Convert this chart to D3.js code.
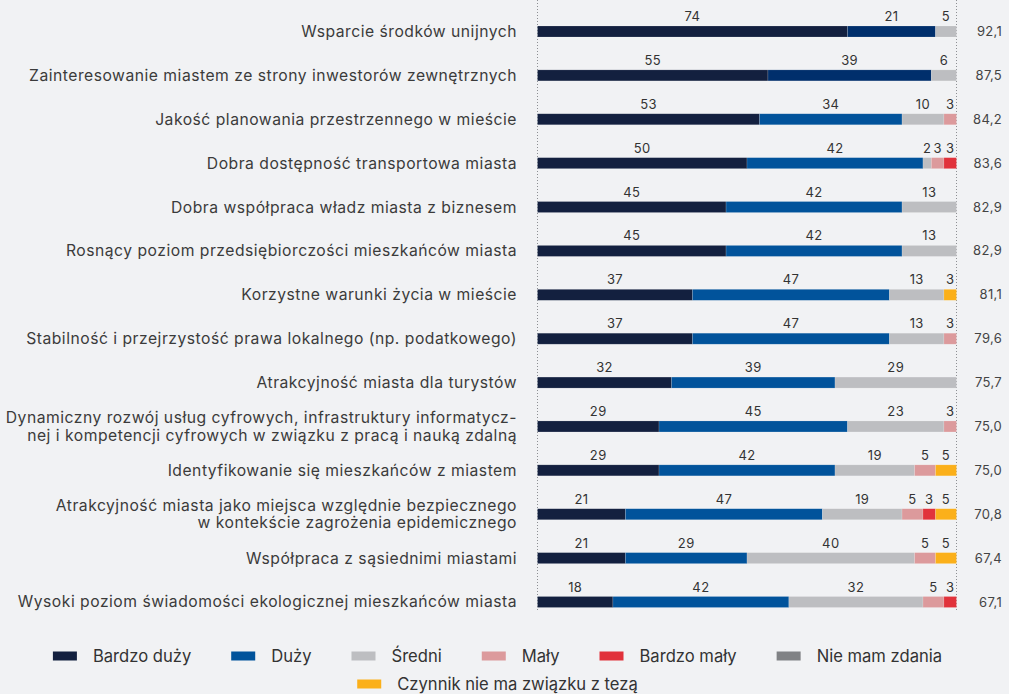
<!DOCTYPE html>
<html lang="pl">
<head>
<meta charset="utf-8">
<script src="https://cdn.jsdelivr.net/npm/d3@7"></script>
<style>
  html, body { margin: 0; padding: 0; background: #f1f2f4; }
  svg { display: block; }
  text { font-family: Inter, "Noto Sans", sans-serif; }
</style>
</head>
<body>
<svg id="chart" width="1009" height="694"></svg>
<script>
// Ocena czynników rozwoju miasta (% odpowiedzi) oraz wskaźnik zbiorczy
const categories = [
  "Wsparcie środków unijnych",
  "Zainteresowanie miastem ze strony inwestorów zewnętrznych",
  "Jakość planowania przestrzennego w mieście",
  "Dobra dostępność transportowa miasta",
  "Dobra współpraca władz miasta z biznesem",
  "Rosnący poziom przedsiębiorczości mieszkańców miasta",
  "Korzystne warunki życia w mieście",
  "Stabilność i przejrzystość prawa lokalnego (np. podatkowego)",
  "Atrakcyjność miasta dla turystów",
  "Dynamiczny rozwój usług cyfrowych, infrastruktury informatycz-\nnej i kompetencji cyfrowych w związku z pracą i nauką zdalną",
  "Identyfikowanie się mieszkańców z miastem",
  "Atrakcyjność miasta jako miejsca względnie bezpiecznego\nw kontekście zagrożenia epidemicznego",
  "Współpraca z sąsiednimi miastami",
  "Wysoki poziom świadomości ekologicznej mieszkańców miasta"
];

const seriesNames = ["Bardzo duży", "Duży", "Średni", "Mały", "Bardzo mały", "Nie mam zdania", "Czynnik nie ma związku z tezą"];

const bardzoDuzy   = [74, 55, 53, 50, 45, 45, 37, 37, 32, 29, 29, 21, 21, 18];
const duzy         = [21, 39, 34, 42, 42, 42, 47, 47, 39, 45, 42, 47, 29, 42];
const sredni       = [ 5,  6, 10,  2, 13, 13, 13, 13, 29, 23, 19, 19, 40, 32];
const maly         = [ 0,  0,  3,  3,  0,  0,  0,  3,  0,  3,  5,  5,  5,  5];
const bardzoMaly   = [ 0,  0,  0,  3,  0,  0,  0,  0,  0,  0,  0,  3,  0,  3];
const nieMamZdania = [ 0,  0,  0,  0,  0,  0,  0,  0,  0,  0,  0,  0,  0,  0];
const bezZwiazku   = [ 0,  0,  0,  0,  0,  0,  3,  0,  0,  0,  5,  5,  5,  0];

const indexValues = ["92,1", "87,5", "84,2", "83,6", "82,9", "82,9", "81,1", "79,6", "75,7", "75,0", "75,0", "70,8", "67,4", "67,1"];

const seriesValues = [bardzoDuzy, duzy, sredni, maly, bardzoMaly, nieMamZdania, bezZwiazku];
const colors = ["#13203f", "#01539b", "#bdbec1", "#dc9a9c", "#e1323b", "#808285", "#fbb01a"];
const duzyTopColor = "#002f6c"; // ciemniejszy odcień dla dwóch najwyżej ocenionych czynników

const svg = d3.select("#chart");

const x = d3.scaleLinear().domain([0, 100]).range([537.5, 956.5]);
const y = d3.scalePoint().domain(d3.range(categories.length)).range([31.5, 602]);
const barH = 11;

// Stos danych
const table = categories.map((c, i) => {
  const row = { i };
  seriesNames.forEach((s, k) => row[s] = seriesValues[k][i]);
  return row;
});
const stacked = d3.stack().keys(seriesNames)(table);

// Pionowe linie kropkowane
[0, 100].forEach(v => {
  svg.append("line")
    .attr("x1", x(v)).attr("x2", x(v))
    .attr("y1", 0).attr("y2", 610)
    .attr("stroke", "#8d8f93")
    .attr("stroke-width", 1)
    .attr("stroke-dasharray", "1,2");
});

// Słupki
const layers = svg.append("g").selectAll("g")
  .data(stacked).join("g");

layers.each(function(layer, k) {
  const g = d3.select(this);
  g.selectAll("rect")
    .data(layer.filter(d => d[1] - d[0] > 0))
    .join("rect")
    .attr("x", d => x(d[0]))
    .attr("width", d => x(d[1]) - x(d[0]))
    .attr("y", d => y(d.data.i) - barH / 2)
    .attr("height", barH)
    .attr("fill", d => (k === 1 && d.data.i < 2) ? duzyTopColor : colors[k])
    .attr("stroke", "rgba(255,255,255,0.25)")
    .attr("stroke-width", 0.6);

  g.selectAll("text")
    .data(layer.filter(d => d[1] - d[0] > 0))
    .join("text")
    .attr("x", d => (x(d[0]) + x(d[1])) / 2)
    .attr("y", d => y(d.data.i) - barH / 2 - 5)
    .attr("text-anchor", "middle")
    .attr("font-size", 13)
    .attr("letter-spacing", 0.4)
    .attr("fill", "#333")
    .text(d => d[1] - d[0]);
});

// Etykiety kategorii
const labelFont = 15.7;
const lineH = 17.5;
const labels = svg.append("g");
categories.forEach((c, i) => {
  const lines = c.split("\n");
  const t = labels.append("text")
    .attr("text-anchor", "end")
    .attr("font-size", labelFont)
    .attr("letter-spacing", 0.5)
    .attr("fill", "#3b3b3b");
  lines.forEach((ln, j) => {
    t.append("tspan")
      .attr("x", 517)
      .attr("y", y(i) + (j - (lines.length - 1) / 2) * lineH)
      .attr("dy", "0.35em")
      .text(ln);
  });
});

// Wartości wskaźnika po prawej
svg.append("g").selectAll("text")
  .data(indexValues)
  .join("text")
  .attr("x", 1002)
  .attr("y", (d, i) => y(i))
  .attr("dy", "0.35em")
  .attr("text-anchor", "end")
  .attr("font-size", 13)
  .attr("letter-spacing", 0.3)
  .attr("fill", "#444")
  .text(d => d);

// Legenda
const legendRows = [seriesNames.slice(0, 6), seriesNames.slice(6)];
const legendY = [656, 684];
const swW = 24, swH = 9, swGap = 16, itemGap = 40, legendCenter = 497.5;
const legend = svg.append("g").attr("font-family", "Roboto, sans-serif");
legendRows.forEach((row, r) => {
  const g = legend.append("g");
  let cx = 0;
  row.forEach(name => {
    const k = seriesNames.indexOf(name);
    g.append("rect")
      .attr("x", cx).attr("y", legendY[r] - swH / 2)
      .attr("width", swW).attr("height", swH)
      .attr("fill", colors[k]);
    const t = g.append("text")
      .attr("x", cx + swW + swGap)
      .attr("y", legendY[r])
      .attr("dy", "0.35em")
      .attr("font-size", 16.6)
      .attr("fill", "#333")
      .text(name);
    cx += swW + swGap + t.node().getComputedTextLength() + itemGap;
  });
  const total = cx - itemGap;
  g.attr("transform", `translate(${legendCenter - total / 2},0)`);
});
</script>
</body>
</html>
